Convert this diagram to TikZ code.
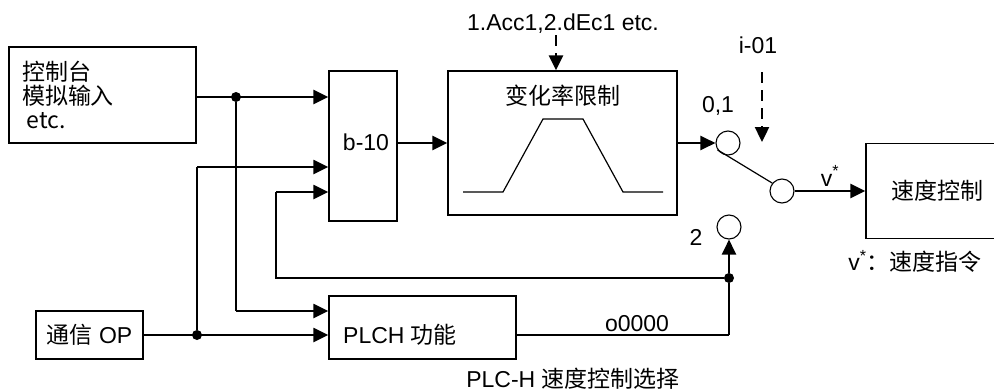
\documentclass[tikz,border=0pt]{standalone}
\usepackage{fontspec}
\setmainfont{Liberation Sans}
\newfontfamily\cjk{Noto Sans CJK SC}
\usetikzlibrary{arrows.meta}
\begin{document}
\begin{tikzpicture}[x=1pt,y=-1pt,
  every node/.style={font=\fontsize{23}{24}\selectfont, inner sep=0pt},
  blk/.style={draw, line width=1.3pt, rectangle},
  circ/.style={draw, circle, minimum size=24pt, line width=1.1pt},
  dot/.style={fill, circle, minimum size=10pt},
  thk/.style={line width=2.3pt},
  thn/.style={line width=1.2pt},
  arr/.style={thk, -{Triangle[length=15pt,width=14pt]}},
  dasharr/.style={line width=2.4pt, dash pattern=on 11pt off 7pt, -{Triangle[length=15pt,width=14pt]}}]
\useasboundingbox (0,0) rectangle (994,391);

% blocks
\node[blk, minimum width=187pt, minimum height=96pt, text width=161pt, align=left] (box1) at (102.5,95)
  {\cjk 控制台\\\cjk 模拟输入\\\hspace*{5pt}etc.};
\node[blk, minimum width=68pt, minimum height=150pt] (b10) at (363,146) {};
\node[anchor=base] (b10t) at (366,150) {b-10};
\node[blk, minimum width=229pt, minimum height=144pt] (rate) at (562.5,143) {};
\node (ratet) at (563,96) {\cjk 变化率限制};
\node[blk, minimum width=142pt, minimum height=95pt] (speed) at (937,191) {\cjk 速度控制};
\node[blk, minimum width=107pt, minimum height=48pt] (op) at (89.5,335) {{\cjk 通信}\ OP};
\node[blk, minimum width=187pt, minimum height=63pt] (plch) at (422.5,327.5) {};
\node[anchor=west] (plcht) at (343,335) {PLCH {\cjk 功能}};

% switch circles
\node[circ] (c01) at (728,143) {};
\node[circ] (cout) at (782,191) {};
\node[circ] (c2) at (729,227) {};

% labels
\node[anchor=base] (acc) at (563,30) {1.Acc1,2.dEc1 etc.};
\node[anchor=base] (i01) at (758,53) {i-01};
\node[anchor=base] (l01) at (718,112) {0,1};
\node[anchor=base] (l2) at (696,245) {2};
\node[anchor=base] (lv) at (830,186) {v\textsuperscript{*}};
\node[anchor=base] (lo) at (637,331) {o0000};
\node (lsel) at (573,379) {PLC-H {\cjk 速度控制选择}};
\node (lvd) at (915,261) {v\textsuperscript{*}{\cjk ：速度指令}};

% junctions
\node[dot] (j1) at (236,97) {};
\node[dot] (j2) at (197,335) {};
\node[dot] (j3) at (729,278) {};
\coordinate (g1) at (197,167);
\coordinate (h1) at (236,311);
\coordinate (f1) at (276,278);
\coordinate (f2) at (276,192);
\coordinate (k) at (729,335);
\coordinate (a0) at (556,35);
\coordinate (i0) at (762,72);
\coordinate (i1) at (762,142);

% connectors
\draw[arr] (box1.east |- j1) -- (b10.west |- j1);
\draw[thn] (j1) -- (h1);
\draw[arr] (h1) -- (plch.west |- h1);
\draw[arr] (op.east |- j2) -- (plch.west |- j2);
\draw[thn] (j2) -- (g1);
\draw[arr] (g1) -- (b10.west |- g1);
\draw[thn] (j3) -- (f1) -- (f2);
\draw[arr] (f2) -- (b10.west |- f2);
\draw[thn] (plch.east |- k) -- (k);
\draw[thk] (k) -- (j3);
\draw[arr] (j3) -- (c2.south);
\draw[arr] (b10.east |- rate.west) -- (rate.west);
\draw[arr] (rate.east) -- (c01.west);
\draw[thn] (c01.213) -- (cout.141);
\draw[arr] (cout.east) -- (speed.west |- cout.east);
\draw[dasharr] (a0) -- (a0 |- rate.north);
\draw[dasharr] (i0) -- (i1);

% ramp curve
\draw[thn] (463,192) -- (503,192) -- (543,119) -- (583,119) -- (623,192) -- (663,192);
\end{tikzpicture}
\end{document}
